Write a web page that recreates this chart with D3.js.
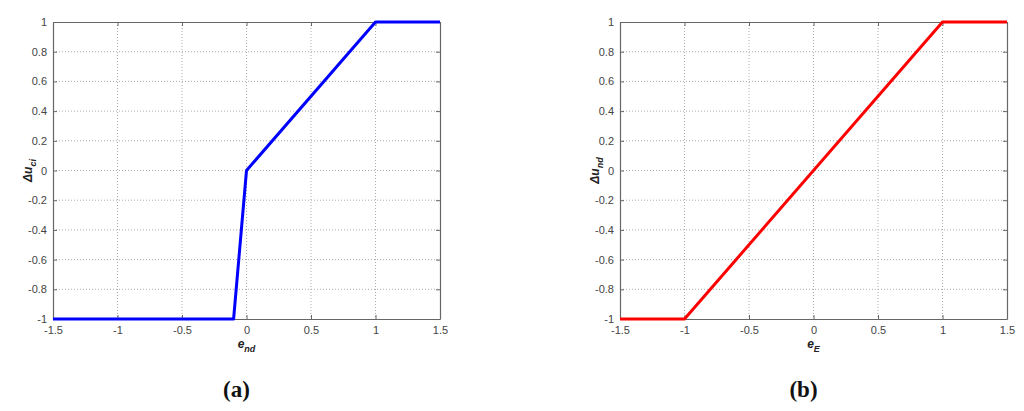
<!DOCTYPE html>
<html>
<head>
<meta charset="utf-8">
<script src="https://cdn.jsdelivr.net/npm/d3@7"></script>
<style>
  body { margin: 0; background: #fff; }
  svg { display: block; }
</style>
</head>
<body>
<div id="chart"></div>
<script>
// data
const xTicks = [-1.5, -1, -0.5, 0, 0.5, 1, 1.5];
const yTicks = [-1, -0.8, -0.6, -0.4, -0.2, 0, 0.2, 0.4, 0.6, 0.8, 1];
const curveA = [[-1.5, -1], [-0.1, -1], [0, 0], [1, 1], [1.5, 1]];
const curveB = [[-1.5, -1], [-1, -1], [1, 1], [1.5, 1]];

const panels = [
  { left: 53, right: 440, data: curveA, color: "#0000ff", ylab: "Δu", ysub: "ci", xlab: "e", xsub: "nd", tag: "(a)" },
  { left: 620, right: 1007, data: curveB, color: "#ff0000", ylab: "Δu", ysub: "nd", xlab: "e", xsub: "E", tag: "(b)" }
];

const width = 1024, height = 411;
const plotTop = 22, plotBottom = 319;
const sans = "'Liberation Sans', Arial, sans-serif";

const svg = d3.select("#chart").append("svg")
  .attr("width", width)
  .attr("height", height);

panels.forEach(p => {
  const x = d3.scaleLinear().domain([-1.5, 1.5]).range([p.left, p.right]);
  const y = d3.scaleLinear().domain([-1, 1]).range([plotBottom, plotTop]);
  const g = svg.append("g");

  // grid
  g.selectAll(".gx").data(xTicks.slice(1, -1)).enter().append("line")
    .attr("x1", d => x(d)).attr("x2", d => x(d))
    .attr("y1", plotTop).attr("y2", plotBottom)
    .attr("stroke", "#aaa").attr("stroke-dasharray", "1,2");
  g.selectAll(".gy").data(yTicks.slice(1, -1)).enter().append("line")
    .attr("x1", p.left).attr("x2", p.right)
    .attr("y1", d => y(d)).attr("y2", d => y(d))
    .attr("stroke", "#aaa").attr("stroke-dasharray", "1,2");

  // axes (matlab style, ticks inside on all sides)
  const fmt = d => String(d);
  const axB = g.append("g").attr("transform", `translate(0,${plotBottom})`)
    .call(d3.axisBottom(x).tickValues(xTicks).tickFormat(fmt).tickSizeInner(-4).tickSizeOuter(0).tickPadding(7));
  const axT = g.append("g").attr("transform", `translate(0,${plotTop})`)
    .call(d3.axisTop(x).tickValues(xTicks).tickFormat("").tickSizeInner(-4).tickSizeOuter(0));
  const axL = g.append("g").attr("transform", `translate(${p.left},0)`)
    .call(d3.axisLeft(y).tickValues(yTicks).tickFormat(fmt).tickSizeInner(-4).tickSizeOuter(0).tickPadding(6));
  const axR = g.append("g").attr("transform", `translate(${p.right},0)`)
    .call(d3.axisRight(y).tickValues(yTicks).tickFormat("").tickSizeInner(-4).tickSizeOuter(0));
  [axB, axT, axL, axR].forEach(a => {
    a.select(".domain").attr("stroke", "#666").attr("stroke-width", 1.2);
    a.selectAll(".tick line").attr("stroke", "#666");
    a.selectAll("text").attr("fill", "#444").style("font-family", sans).style("font-size", "11px");
  });

  // line
  g.append("path")
    .datum(p.data)
    .attr("fill", "none")
    .attr("stroke", p.color)
    .attr("stroke-width", 3)
    .attr("stroke-linejoin", "round")
    .attr("d", d3.line().x(d => x(d[0])).y(d => y(d[1])));

  // x label
  const xl = g.append("text")
    .attr("x", x(0)).attr("y", 348)
    .attr("text-anchor", "middle")
    .style("font-family", sans)
    .style("font-weight", "bold").style("font-style", "italic").style("font-size", "12px")
    .attr("fill", "#222");
  xl.append("tspan").text(p.xlab);
  xl.append("tspan").attr("dy", 4).style("font-size", "9px").text(p.xsub);

  // y label
  const yl = g.append("text")
    .attr("transform", `translate(${p.left - 21},${y(0)}) rotate(-90)`)
    .attr("text-anchor", "middle")
    .style("font-family", sans)
    .style("font-weight", "bold").style("font-style", "italic").style("font-size", "12px")
    .attr("fill", "#222");
  yl.append("tspan").text(p.ylab);
  yl.append("tspan").attr("dy", 4).style("font-size", "9px").text(p.ysub);

  // panel tag
  g.append("text")
    .attr("x", x(0) - 10).attr("y", 397)
    .attr("text-anchor", "middle")
    .style("font-family", "'Liberation Serif', 'DejaVu Serif', serif")
    .style("font-weight", "bold").style("font-size", "23px")
    .attr("fill", "#111")
    .text(p.tag);
});
</script>
</body>
</html>
